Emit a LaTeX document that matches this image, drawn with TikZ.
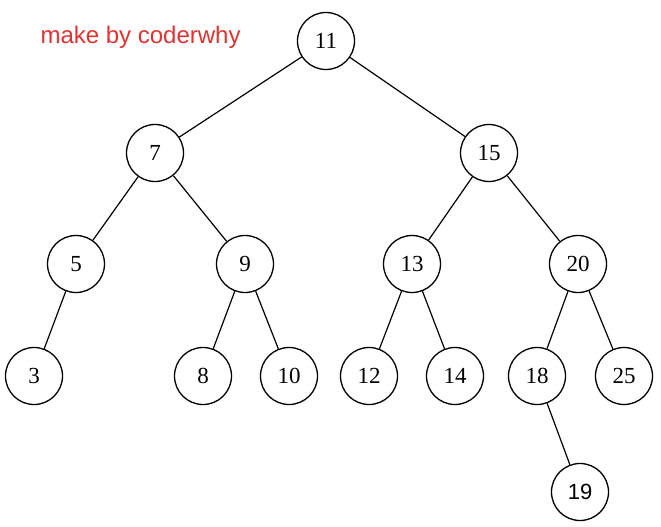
\documentclass[tikz,border=0pt]{standalone}
\usepackage{fontspec}
\setmainfont{Liberation Serif}
\newfontfamily\labelfont{Liberation Sans}
\usepackage{xcolor}
\usetikzlibrary{positioning}
\definecolor{markred}{RGB}{222,52,52}

\begin{document}
\begin{tikzpicture}[x=1pt, y=-1pt,
    treenode/.style={draw, circle, line width=1.3pt, minimum size=57pt, inner sep=0pt, font=\fontsize{23}{23}\selectfont},
    edge/.style={line width=1.2pt}]
    \useasboundingbox (0, 0) rectangle (661, 527);
    \fill[white] (0, 0) rectangle (661, 527);

    % 标注
    \node[text=markred, font=\labelfont\fontsize{24}{24}\selectfont, anchor=west] (mark) at (37, 37) {make by coderwhy};

    % 结点
    \node[treenode] (n11) at (326, 41) {11};
    \node[treenode] (n7) at (155, 153) {7};
    \node[treenode] (n15) at (489, 153) {15};
    \node[treenode] (n5) at (76, 264) {5};
    \node[treenode] (n9) at (245, 264) {9};
    \node[treenode] (n13) at (412, 264) {13};
    \node[treenode] (n20) at (578, 264) {20};
    \node[treenode] (n3) at (34, 376) {3};
    \node[treenode] (n8) at (203, 376) {8};
    \node[treenode] (n10) at (289, 376) {10};
    \node[treenode] (n12) at (369, 376) {12};
    \node[treenode] (n14) at (455, 376) {14};
    \node[treenode] (n18) at (537, 376) {18};
    \node[treenode] (n25) at (624, 376) {25};
    \node[treenode, font=\labelfont\fontsize{22}{22}\selectfont] (n19) at (580, 492) {19};

    % 连线
    \foreach \a/\b in {n11/n7, n11/n15, n7/n5, n7/n9, n15/n13, n15/n20,
                       n5/n3, n9/n8, n9/n10, n13/n12, n13/n14, n20/n18, n20/n25, n18/n19}
        \draw[edge] (\a) -- (\b);
\end{tikzpicture}
\end{document}
